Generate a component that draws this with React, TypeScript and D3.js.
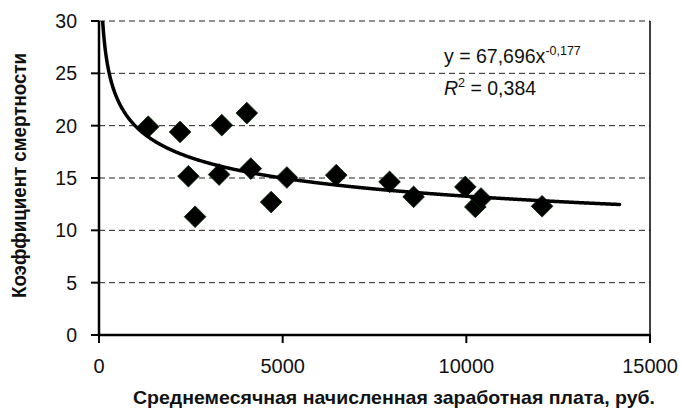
import React from "react";
import * as d3 from "d3";

// average monthly wage, rub.
const wages = [
  1340, 2207, 3343, 4024, 2434, 3270, 4133, 5114, 4687, 2616, 6458, 7910, 8565,
  9973, 10245, 10400, 12062,
];
// mortality coefficient
const mortality = [
  19.9, 19.4, 20.05, 21.2, 15.17, 15.33, 15.9, 15.05, 12.7, 11.3, 15.27, 14.63,
  13.2, 14.15, 12.24, 13.04, 12.3,
];

const xTicks = [0, 5000, 10000, 15000];
const yTicks = [0, 5, 10, 15, 20, 25, 30];

// power trendline shown on the chart
const trendA = 67.696;
const trendB = -0.177;
const trendEnd = 14170;

const WIDTH = 681;
const HEIGHT = 414;
const margin = { top: 21, right: 31, bottom: 79, left: 99 };
const font = "'Liberation Sans', Arial, Helvetica, sans-serif";

export default function App() {
  const x = d3
    .scaleLinear()
    .domain([0, 15000])
    .range([margin.left, WIDTH - margin.right]);
  const y = d3
    .scaleLinear()
    .domain([0, 30])
    .range([HEIGHT - margin.bottom, margin.top]);

  const trendX = d3.range(60, trendEnd, 20).concat([trendEnd]);
  const trendPath = d3
    .line<number>()
    .x((d) => x(d))
    .y((d) => y(trendA * Math.pow(d, trendB)))
    .curve(d3.curveMonotoneX)(trendX);

  const diamond = d3.symbol().type(d3.symbolSquare).size(235)();

  const x0 = x(0);
  const x1 = x(15000);
  const y0 = y(0);
  const y1 = y(30);

  return (
    <div style={{ position: "absolute", left: 0, top: 0 }}>
      <svg width={WIDTH} height={HEIGHT} style={{ display: "block", background: "#fff" }}>
        <defs>
          <clipPath id="plot">
            <rect x={x0} y={y1} width={x1 - x0} height={y0 - y1} />
          </clipPath>
        </defs>

        {/* grid */}
        {yTicks
          .filter((t) => t > 0)
          .map((t) => (
            <line
              key={"g" + t}
              x1={x0}
              x2={x1}
              y1={y(t)}
              y2={y(t)}
              stroke="#222"
              strokeWidth={1}
              strokeDasharray="6,4"
            />
          ))}

        {/* right border */}
        <line x1={x1} x2={x1} y1={y1} y2={y0} stroke="#000" strokeWidth={1.5} />

        {/* axes */}
        <line x1={x0} x2={x0} y1={y1} y2={y0} stroke="#000" strokeWidth={2.5} />
        <line x1={x0 - 1} x2={x1 + 0.75} y1={y0} y2={y0} stroke="#000" strokeWidth={2.5} />

        {yTicks.map((t) => (
          <g key={"y" + t}>
            <line x1={x0 - 8} x2={x0} y1={y(t)} y2={y(t)} stroke="#000" strokeWidth={2} />
            <text
              x={77}
              y={y(t) + 7}
              textAnchor="end"
              fontFamily={font}
              fontSize={19.5}
              fill="#111"
            >
              {t}
            </text>
          </g>
        ))}

        {xTicks.map((t) => (
          <g key={"x" + t}>
            <line x1={x(t)} x2={x(t)} y1={y0} y2={y0 + 8} stroke="#000" strokeWidth={2} />
            <text
              x={x(t)}
              y={372.5}
              textAnchor="middle"
              fontFamily={font}
              fontSize={20}
              fill="#111"
            >
              {t}
            </text>
          </g>
        ))}

        {/* points */}
        {wages.map((w, i) => (
          <path
            key={"p" + i}
            d={diamond || ""}
            transform={`translate(${x(w)},${y(mortality[i])}) rotate(45)`}
            fill="#000"
            stroke="#0d2a0d"
            strokeWidth={0.8}
          />
        ))}

        {/* trendline */}
        <path
          d={trendPath || ""}
          fill="none"
          stroke="#000"
          strokeWidth={3.5}
          strokeLinecap="round"
          clipPath="url(#plot)"
        />

        {/* equation */}
        <text x={444} y={62.5} fontFamily={font} fontSize={19.5} fill="#111">
          y = 67,696x
          <tspan fontSize={12.5} dy={-8}>
            -0,177
          </tspan>
        </text>
        <text x={444} y={94.5} fontFamily={font} fontSize={19.5} fill="#111">
          <tspan fontStyle="italic">R</tspan>
          <tspan fontSize={12.5} dy={-8}>
            2
          </tspan>
          <tspan dy={8}> = 0,384</tspan>
        </text>

        {/* axis titles */}
        <text
          x={394}
          y={404}
          textAnchor="middle"
          fontFamily={font}
          fontWeight="bold"
          fontSize={19}
          fill="#111"
          textLength={522}
          lengthAdjust="spacingAndGlyphs"
        >
          Среднемесячная начисленная заработная плата, руб.
        </text>
        <text
          transform="translate(26,175.5) rotate(-90)"
          textAnchor="middle"
          fontFamily={font}
          fontWeight="bold"
          fontSize={20}
          fill="#111"
          textLength={245}
          lengthAdjust="spacingAndGlyphs"
        >
          Коэффициент смертности
        </text>
      </svg>
    </div>
  );
}
